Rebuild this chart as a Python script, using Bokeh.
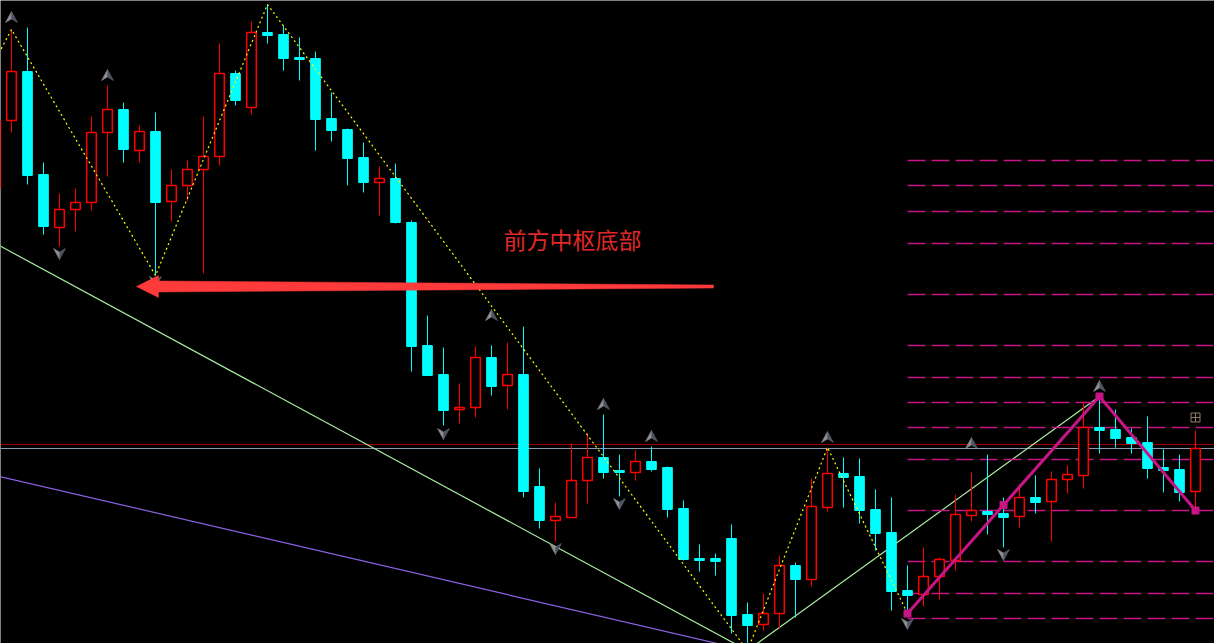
from bokeh.plotting import figure
from bokeh.models import Range1d, ColumnDataSource
from bokeh.embed import file_html
from bokeh.resources import INLINE
from bokeh.core.properties import value

# ---- candle data (bar index -1 .. 74) ----
bar_index = list(range(-1, 75))
open_ = [28.13, 28.80, 29.29, 28.26, 27.73, 27.91, 27.98, 28.68, 28.91, 28.50,
         28.69, 27.99, 28.15, 28.31, 28.44, 29.27, 28.93, 29.68, 29.66, 29.43,
         29.42, 28.82, 28.71, 28.43, 28.18, 28.22, 27.78, 26.55, 26.26, 25.91,
         25.93, 26.43, 26.15, 26.26, 25.14, 24.80, 24.83, 25.20, 25.43, 25.30,
         25.28, 25.39, 25.33, 24.92, 24.42, 24.42, 24.62, 23.86, 23.76, 23.87,
         24.35, 24.21, 24.93, 25.27, 25.24, 24.91, 24.68, 24.10, 24.06, 24.24,
         24.40, 24.85, 24.89, 24.87, 24.84, 25.03, 24.99, 25.21, 25.25, 25.73,
         25.71, 25.63, 25.58, 25.33, 25.31, 25.09]
high = [28.90, 29.71, 29.73, 28.38, 28.07, 28.12, 28.84, 29.15, 28.98, 28.75,
        28.88, 28.31, 28.40, 28.84, 29.57, 29.30, 29.79, 29.96, 29.75, 29.63,
        29.49, 29.08, 28.72, 28.58, 28.34, 28.37, 27.80, 26.85, 26.53, 26.17,
        26.54, 26.55, 26.58, 26.74, 25.32, 24.98, 25.57, 25.67, 25.86, 25.46,
        25.50, 25.54, 25.34, 25.00, 24.56, 24.47, 24.76, 23.98, 24.07, 24.45,
        24.38, 25.22, 25.53, 25.43, 25.42, 25.11, 25.03, 24.35, 24.53, 24.43,
        25.06, 25.28, 25.46, 25.03, 25.16, 25.25, 25.29, 25.35, 25.99, 26.04,
        25.91, 25.72, 25.84, 25.51, 25.46, 25.70]
low = [28.05, 28.68, 28.16, 27.66, 27.54, 27.69, 27.90, 28.24, 28.38, 28.38,
       27.25, 27.79, 28.00, 27.27, 28.35, 28.95, 28.86, 29.57, 29.30, 29.20,
       28.50, 28.59, 28.15, 28.08, 27.85, 27.77, 26.29, 26.25, 25.75, 25.77,
       25.83, 26.05, 25.91, 25.03, 24.72, 24.59, 24.83, 24.97, 25.22, 25.04,
       25.20, 25.29, 24.83, 24.40, 24.29, 24.25, 23.67, 23.50, 23.70, 23.72,
       23.83, 24.14, 24.89, 24.93, 24.77, 24.50, 23.90, 23.87, 23.94, 24.01,
       24.30, 24.79, 24.66, 24.53, 24.73, 24.87, 24.59, 25.07, 25.12, 25.47,
       25.53, 25.47, 25.22, 25.08, 24.99, 24.90]
close = [28.80, 29.29, 28.25, 27.74, 27.91, 27.98, 28.68, 28.91, 28.51, 28.69,
         27.98, 28.15, 28.31, 28.44, 29.27, 29.00, 29.68, 29.65, 29.42, 29.41,
         28.81, 28.70, 28.42, 28.18, 28.22, 27.78, 26.54, 26.25, 25.90, 25.93,
         26.43, 26.14, 26.26, 25.09, 24.80, 24.84, 25.20, 25.43, 25.28, 25.28,
         25.39, 25.31, 24.91, 24.41, 24.40, 24.39, 23.85, 23.75, 23.87, 24.35,
         24.21, 24.94, 25.27, 25.23, 24.90, 24.67, 24.09, 24.05, 24.24, 24.41,
         24.86, 24.90, 24.86, 24.83, 25.03, 24.98, 25.21, 25.26, 25.73, 25.70,
         25.62, 25.57, 25.32, 25.30, 25.08, 25.52]

# ---- zigzag swing points ----
zz_index = [-3, 0, 9, 16, 46, 51, 56, 68]
zz_price = [28.81, 29.71, 27.25, 29.96, 23.50, 25.53, 23.87, 26.04]

# ---- current wave (low -> high -> low) ----
wave_index = [56, 68, 74]
wave_price = [23.87, 26.04, 24.90]

# ---- projection levels to the right of the wave start ----
level_prices = [28.40, 28.15, 27.89, 27.57, 27.06, 26.55, 26.23, 25.98,
                25.73, 25.41, 24.90, 24.39, 24.07, 23.82]

# ---- horizontal reference prices ----
ref_red = 25.56
ref_grey = 25.52

# ---- trendlines (pairs of anchor points) ----
trend_down_green = ([-1, 46], [27.57, 23.50])
trend_up_green = ([46, 68], [23.50, 26.04])
trend_purple = ([-1, 46], [25.25, 23.50])

# ---- fractal marks ----
frac_up_index = [0, 6, 30, 37, 40, 51, 60, 68]
frac_up_price = [29.83, 29.25, 26.85, 25.96, 25.64, 25.63, 25.57, 26.14]
frac_dn_index = [3, 9, 27, 34, 38, 56, 62]
frac_dn_price = [27.47, 27.19, 25.67, 24.52, 24.97, 23.77, 24.46]

# ---- annotation ----
note_text = "前方中枢底部"
note_index, note_price = 30.75, 27.62
arrow_tip_index, arrow_tail_index, arrow_price = 7.81, 43.875, 27.14

# screen scale helpers: one bar = 16 px, one cent = 1 px
PX_X = 1 / 16.0
PX_Y = 0.01

W, H = 1214, 643
x0 = -11 * PX_X
p = figure(width=W, height=H, output_backend="svg", toolbar_location=None,
           x_range=Range1d(x0, x0 + W * PX_X), y_range=Range1d(30.0 - H * PX_Y, 30.0),
           x_axis_type=None, y_axis_type=None, min_border=0,
           background_fill_color="black", border_fill_color="black",
           outline_line_color=None)
p.grid.visible = False

# horizontal reference lines
p.line([x0, x0 + W * PX_X], [ref_red, ref_red], line_color="#a00000", line_width=1.2)
p.line([x0, x0 + W * PX_X], [ref_grey, ref_grey], line_color="#8a9bb0", line_width=1.2)

# trendlines
p.line(*trend_purple, line_color="#8d63e6", line_width=1.2)
p.line(*trend_down_green, line_color="#a8eea0", line_width=1.2)
p.line(*trend_up_green, line_color="#a8eea0", line_width=1.2)

# projection levels
right_edge = x0 + W * PX_X
p.segment(x0=[wave_index[0]] * len(level_prices), y0=level_prices,
          x1=[right_edge] * len(level_prices), y1=level_prices,
          line_color="#c71585", line_width=1.3, line_dash="18 6")

# candles
up = [c >= o for o, c in zip(open_, close)]
src_up = ColumnDataSource(dict(
    x=[i for i, u in zip(bar_index, up) if u],
    top=[c for c, u in zip(close, up) if u],
    bottom=[o for o, u in zip(open_, up) if u],
    hi=[h for h, u in zip(high, up) if u],
    lo=[l for l, u in zip(low, up) if u]))
src_dn = ColumnDataSource(dict(
    x=[i for i, u in zip(bar_index, up) if not u],
    top=[o for o, u in zip(open_, up) if not u],
    bottom=[c for c, u in zip(close, up) if not u],
    hi=[h for h, u in zip(high, up) if not u],
    lo=[l for l, u in zip(low, up) if not u]))

p.segment(x0="x", y0="hi", x1="x", y1="lo", source=src_up, line_color="#ff0000", line_width=1)
p.vbar(x="x", width=0.6, top="top", bottom="bottom", source=src_up,
       fill_color="black", line_color="#ff0000", line_width=1.5)
p.segment(x0="x", y0="hi", x1="x", y1="lo", source=src_dn, line_color="#00ffff", line_width=1)
p.vbar(x="x", width=0.6, top="top", bottom="bottom", source=src_dn,
       fill_color="#00ffff", line_color="#00ffff", line_width=1)

# zigzag (dotted yellow)
p.line(zz_index, zz_price, line_color="#ffff00", line_width=1.2, line_dash="2 3")

# current wave with midpoint marker
mid_index = (wave_index[0] + wave_index[1]) / 2
mid_price = (wave_price[0] + wave_price[1]) / 2
p.line(wave_index, wave_price, line_color="#c71585", line_width=3)
p.scatter(wave_index + [mid_index], wave_price + [mid_price], marker="square",
          size=7, fill_color="#c71585", line_color="#c71585")


# fractal arrowheads, built as two-tone polygons
def arrow_parts(xs, ys, direction):
    left_x, left_y, right_x, right_y = [], [], [], []
    s = direction
    for x, y in zip(xs, ys):
        tip = (x, y + s * 6 * PX_Y)
        notch = (x, y - s * 1.5 * PX_Y)
        lb = (x - 6 * PX_X, y - s * 5 * PX_Y)
        rb = (x + 6 * PX_X, y - s * 5 * PX_Y)
        left_x.append([tip[0], notch[0], lb[0]])
        left_y.append([tip[1], notch[1], lb[1]])
        right_x.append([tip[0], rb[0], notch[0]])
        right_y.append([tip[1], rb[1], notch[1]])
    return left_x, left_y, right_x, right_y


for xs, ys, d in ((frac_up_index, frac_up_price, 1), (frac_dn_index, frac_dn_price, -1)):
    lx, ly, rx, ry = arrow_parts(xs, ys, d)
    p.patches(lx, ly, fill_color="#8e8e8e", line_color="#8e8e8e", line_width=0.5)
    p.patches(rx, ry, fill_color="#4a5263", line_color="#6a7080", line_width=0.5)

# small crosshair mark on the last bar
p.scatter([bar_index[-1]], [25.83], marker="square_cross", size=9,
          fill_color=None, line_color="#8f7e64", line_width=1)

# annotation arrow (tapered shaft)
head_len = 22 * PX_X
head_half = 11 * PX_Y
shaft_head = 5.5 * PX_Y
shaft_tail = 1.5 * PX_Y
hb = arrow_tip_index + head_len
p.patch([arrow_tip_index, hb, hb, arrow_tail_index, arrow_tail_index, hb, hb],
        [arrow_price, arrow_price + head_half, arrow_price + shaft_head,
         arrow_price + shaft_tail, arrow_price - shaft_tail,
         arrow_price - shaft_head, arrow_price - head_half],
        fill_color="#ff3a3a", line_color="#ff3a3a", line_width=0.5)

p.text([note_index], [note_price], text=[note_text], text_color="#e02828",
       text_font=value("Noto Sans CJK SC"), text_font_size="23px",
       text_align="left", text_baseline="middle")

open("out.html", "w").write(file_html(p, INLINE))
